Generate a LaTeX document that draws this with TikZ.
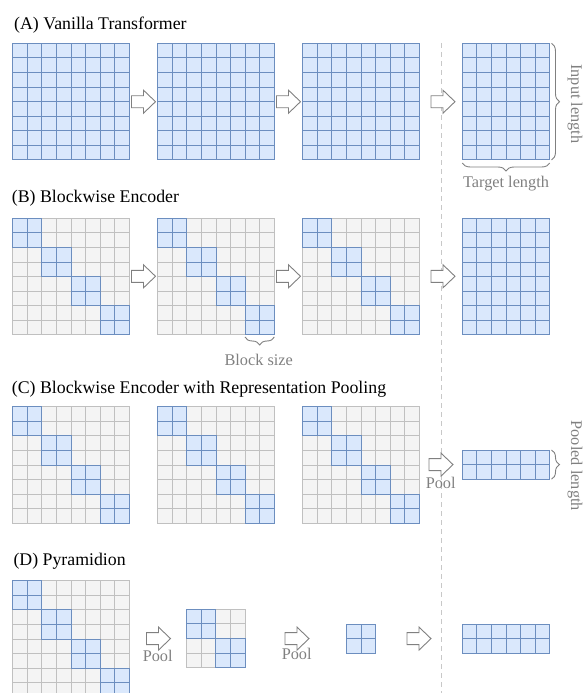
\documentclass[tikz,border=0pt]{standalone}
\usepackage{fontspec}
\setmainfont{Liberation Serif}
\usetikzlibrary{decorations.pathreplacing}
\definecolor{bfill}{HTML}{DAE8FC}
\definecolor{bline}{HTML}{6C8EBF}
\definecolor{gfill}{HTML}{F4F4F4}
\definecolor{gline}{HTML}{C0C0C0}
\definecolor{lgray}{HTML}{808080}
\definecolor{dgray}{HTML}{C8C8C8}
\def\cs{14.58}
\newcommand{\mygrid}[5]{\foreach \ii in {1,...,#3}{\foreach \jj in {1,...,#4}{\draw[#5] ({#1+(\ii-1)*\cs},{#2+(\jj-1)*\cs}) rectangle ++(\cs,\cs);}}}
\newcommand{\myblock}[4]{\mygrid{#1+#3*\cs}{#2+#4*\cs}{2}{2}{bluecell}}
\newcommand{\diaggrid}[2]{\mygrid{#1}{#2}{8}{8}{graycell}\foreach \kk in {0,2,4,6}{\myblock{#1}{#2}{\kk}{\kk}}}
\tikzset{
  graycell/.style={fill=gfill,draw=gline,line width=1pt},
  bluecell/.style={fill=bfill,draw=bline,line width=1pt},
  arrowline/.style={draw=lgray,fill=white,line width=0.9pt},
  lbl/.style={text=lgray,font=\fontsize{16.3}{18}\selectfont,inner sep=0pt},
  ttl/.style={font=\fontsize{17.8}{20}\selectfont,inner sep=0pt,anchor=base west},
  brc/.style={draw=lgray,line width=0.9pt,decorate,decoration={brace,amplitude=8pt}},
  harrow/.pic={\draw[arrowline] (0,-6) -- (12,-6) -- (12,-11.5) -- (24,0) -- (12,11.5) -- (12,6) -- (0,6) -- cycle;}
}
\begin{document}
\begin{tikzpicture}[x=1pt,y=-1pt]
\useasboundingbox (0,0) rectangle (583,693);
\clip (0,0) rectangle (583,693);
% dashed separator
\draw[dgray,line width=1pt,dash pattern=on 5pt off 4pt] (441.7,43) -- (441.7,693);
% titles
\node[ttl] (tA) at (14,29.3) {(A) Vanilla Transformer};
\node[ttl] (tB) at (11.7,202.7) {(B) Blockwise Encoder};
\node[ttl] (tC) at (11.7,393.3) {(C) Blockwise Encoder with Representation Pooling};
\node[ttl] (tD) at (13.3,565) {(D) Pyramidion};
% (A)
\mygrid{12.7}{43.3}{8}{8}{bluecell}
\mygrid{157.7}{43.3}{8}{8}{bluecell}
\mygrid{302.7}{43.3}{8}{8}{bluecell}
\mygrid{462.3}{43.3}{6}{8}{bluecell}
\pic at (131.5,101.7) {harrow};
\pic at (276.5,101.7) {harrow};
\pic at (431,101.7) {harrow};
\draw[brc] (551.5,43.3) -- (551.5,160);
\draw[brc] (549.7,163) -- (462.3,163);
\node[lbl,rotate=-90] (il) at (575,104) {Input length};
\node[lbl,anchor=base] (tl) at (506,187) {Target length};
% (B)
\diaggrid{12.7}{218.3}
\diaggrid{157.7}{218.3}
\diaggrid{302.7}{218.3}
\mygrid{462.3}{218.3}{6}{8}{bluecell}
\pic at (131.5,276.3) {harrow};
\pic at (276.5,276.3) {harrow};
\pic at (431,276.3) {harrow};
\draw[brc] (274.3,337) -- (245,337);
\node[lbl,anchor=base] (bs) at (258.7,365) {Block size};
% (C)
\diaggrid{12.7}{406.7}
\diaggrid{157.7}{406.7}
\diaggrid{302.7}{406.7}
\mygrid{462.3}{450}{6}{2}{bluecell}
\pic at (429,464.6) {harrow};
\node[lbl,anchor=base] (p1) at (440.7,488.3) {Pool};
\draw[brc] (551.5,450) -- (551.5,479.2);
\node[lbl,rotate=-90] (pl) at (575,465.8) {Pooled length};
% (D)
\diaggrid{12.7}{580.7}
\mygrid{186.7}{609.3}{4}{4}{graycell}
\myblock{186.7}{609.3}{0}{0}
\myblock{186.7}{609.3}{2}{2}
\mygrid{346.7}{624.3}{2}{2}{bluecell}
\mygrid{462.3}{624.3}{6}{2}{bluecell}
\pic at (146.5,638.6) {harrow};
\pic at (285,638.6) {harrow};
\pic at (407,638.6) {harrow};
\node[lbl,anchor=base] (p2) at (157.7,661) {Pool};
\node[lbl,anchor=base] (p3) at (296.7,659.3) {Pool};
\end{tikzpicture}
\end{document}
